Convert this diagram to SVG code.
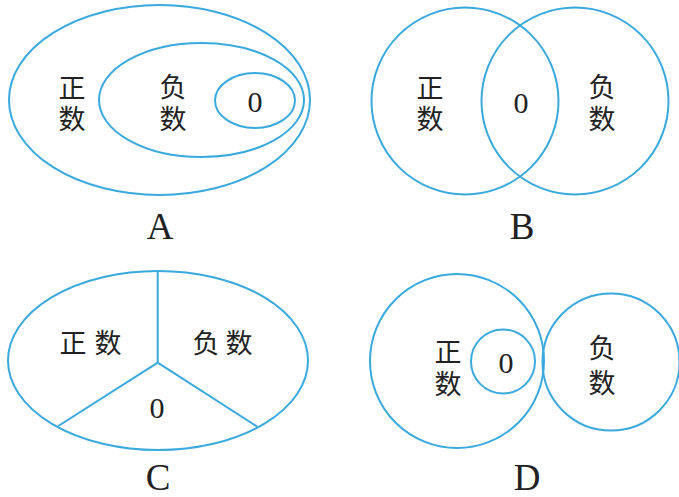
<svg xmlns="http://www.w3.org/2000/svg" width="679" height="497" viewBox="0 0 679 497">
<style>
.s{fill:none;stroke:#3aa9dc;stroke-width:2}
.c{font-family:"Noto Sans CJK SC","Noto Sans CJK JP",sans-serif;font-size:27px;fill:#222;text-anchor:middle}
.d{font-family:"Liberation Serif",serif;font-size:30px;fill:#222;text-anchor:middle}
.l{font-family:"Liberation Serif",serif;font-size:37px;fill:#222;text-anchor:middle}
</style>
<rect width="679" height="497" fill="#fff"/>
<g id="A">
<ellipse class="s" cx="159.5" cy="100" rx="150.5" ry="95"/>
<ellipse class="s" cx="201.5" cy="100" rx="102.5" ry="57"/>
<ellipse class="s" cx="255" cy="100.5" rx="40" ry="27.5"/>
<text class="c" x="72" y="98">正</text>
<text class="c" x="72" y="129">数</text>
<text class="c" x="173" y="97">负</text>
<text class="c" x="173" y="129">数</text>
<text class="d" x="255" y="112">0</text>
<text class="l" x="160" y="239">A</text>
</g>
<g id="B">
<circle class="s" cx="465" cy="101" r="93.5"/>
<circle class="s" cx="575" cy="101" r="93.5"/>
<text class="c" x="430" y="98">正</text>
<text class="c" x="430" y="129">数</text>
<text class="c" x="602" y="97">负</text>
<text class="c" x="602" y="129">数</text>
<text class="d" x="521" y="113">0</text>
<text class="l" x="522" y="239">B</text>
</g>
<g id="C">
<ellipse class="s" cx="158" cy="360.5" rx="150" ry="89.5"/>
<path class="s" d="M157.7,271 V362.7 L58.3,426 M157.7,362.7 L257.3,426.7"/>
<text class="c" x="73" y="353">正</text>
<text class="c" x="108" y="353">数</text>
<text class="c" x="206" y="353">负</text>
<text class="c" x="239" y="353">数</text>
<text class="d" x="157" y="418">0</text>
<text class="l" x="158" y="490">C</text>
</g>
<g id="D">
<circle class="s" cx="457" cy="361" r="87"/>
<circle class="s" cx="503" cy="361.5" r="32"/>
<circle class="s" cx="611" cy="362" r="68.5"/>
<text class="c" x="448" y="362">正</text>
<text class="c" x="448" y="394">数</text>
<text class="d" x="506" y="373">0</text>
<text class="c" x="602" y="358">负</text>
<text class="c" x="602" y="393">数</text>
<text class="l" x="527" y="490">D</text>
</g>
</svg>
